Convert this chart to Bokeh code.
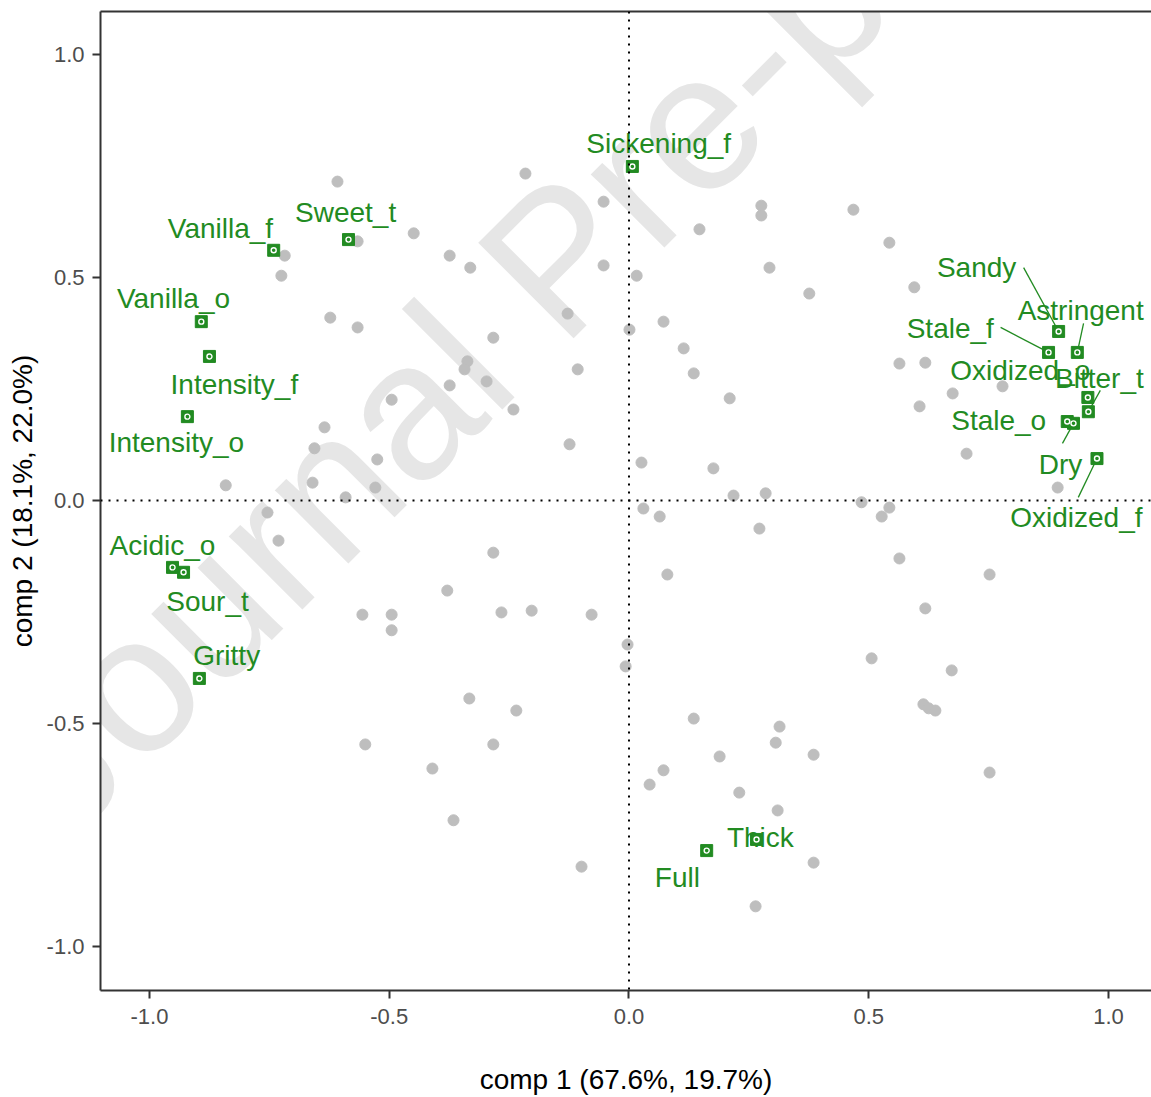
from bokeh.plotting import figure
from bokeh.models import (ColumnDataSource, Range1d, FixedTicker, PrintfTickFormatter,
                          LinearAxis, Span, Label)
from bokeh.embed import file_html
from bokeh.resources import INLINE
from bokeh.core.properties import value

# ---- loadings of the sample/design variables (grey) ----
grey_x = [-0.608, -0.718, -0.725, -0.566, -0.623, -0.566, -0.449, -0.374, -0.331, -0.216,
          -0.053, -0.053, 0.016, -0.128, -0.283, 0.001, 0.072, 0.114, 0.147, 0.276,
          0.276, 0.293, 0.135, 0.210, -0.337, -0.343, -0.374, -0.297, -0.107, -0.241,
          -0.124, 0.026, 0.176, 0.218, 0.285, 0.272, 0.030, 0.064, 0.080, -0.495,
          -0.635, -0.656, -0.525, -0.841, -0.660, -0.529, -0.591, -0.754, -0.731, -0.556,
          -0.495, -0.495, -0.283, -0.379, -0.266, -0.203, -0.078, -0.003, -0.007, -0.333,
          -0.235, -0.283, -0.550, -0.410, -0.366, -0.099, 0.135, 0.314, 0.306, 0.189,
          0.385, 0.072, 0.043, 0.230, 0.310, 0.385, 0.264, 0.485, 0.543, 0.527,
          0.564, 0.752, 0.618, 0.506, 0.673, 0.614, 0.625, 0.639, 0.752, 0.468,
          0.543, 0.595, 0.376, 0.564, 0.618, 0.779, 0.675, 0.606, 0.704, 0.894]
grey_y = [0.715, 0.549, 0.504, 0.581, 0.410, 0.388, 0.599, 0.549, 0.522, 0.733,
          0.670, 0.527, 0.504, 0.419, 0.365, 0.383, 0.401, 0.341, 0.608, 0.661,
          0.639, 0.522, 0.285, 0.229, 0.312, 0.294, 0.258, 0.267, 0.294, 0.204,
          0.126, 0.085, 0.072, 0.011, 0.016, -0.063, -0.018, -0.036, -0.166, 0.226,
          0.164, 0.117, 0.092, 0.034, 0.040, 0.029, 0.007, -0.027, -0.090, -0.256,
          -0.256, -0.291, -0.117, -0.202, -0.251, -0.247, -0.256, -0.323, -0.372, -0.444,
          -0.471, -0.547, -0.547, -0.601, -0.717, -0.821, -0.489, -0.507, -0.543, -0.574,
          -0.570, -0.605, -0.637, -0.655, -0.695, -0.812, -0.910, -0.004, -0.016, -0.036,
          -0.130, -0.166, -0.242, -0.354, -0.381, -0.457, -0.466, -0.471, -0.610, 0.652,
          0.578, 0.478, 0.464, 0.307, 0.309, 0.256, 0.240, 0.211, 0.105, 0.029]

# ---- sensory attribute loadings (green) ----
attributes = ["Vanilla_f", "Sweet_t", "Vanilla_o", "Sickening_f", "Intensity_f",
              "Intensity_o", "Acidic_o", "Sour_t", "Gritty", "Sandy", "Astringent",
              "Stale_f", "Oxidized_o", "Bitter_t", "Stale_o", "Dry", "Oxidized_f",
              "Thick", "Full"]
attr_x = [-0.741, -0.585, -0.892, 0.007, -0.875, -0.921, -0.952, -0.929, -0.896, 0.896,
          0.935, 0.875, 0.957, 0.958, 0.914, 0.927, 0.976, 0.266, 0.162]
attr_y = [0.561, 0.585, 0.401, 0.749, 0.323, 0.188, -0.150, -0.161, -0.399, 0.379,
          0.332, 0.332, 0.231, 0.199, 0.177, 0.173, 0.094, -0.760, -0.785]

# repelled label placement (data units)
label_x = [-0.852, -0.591, -0.950, 0.062, -0.823, -0.944, -0.973, -0.879, -0.839, 0.725,
           0.942, 0.670, 0.816, 0.981, 0.771, 0.900, 0.933, 0.274, 0.101]
label_y = [0.610, 0.646, 0.453, 0.800, 0.260, 0.130, -0.101, -0.226, -0.348, 0.522,
           0.426, 0.385, 0.291, 0.274, 0.179, 0.081, -0.038, -0.756, -0.845]

# leader segments for labels pushed away from their point
leader_names = ["Sandy", "Astringent", "Stale_f", "Bitter_t", "Dry", "Oxidized_f"]
leader_x0 = [0.823, 0.948, 0.775, 0.983, 0.904, 0.937]
leader_y0 = [0.522, 0.397, 0.388, 0.247, 0.128, 0.007]

tick_values = [-1.0, -0.5, 0.0, 0.5, 1.0]
x_title = "comp 1 (67.6%, 19.7%)"
y_title = "comp 2 (18.1%, 22.0%)"

GREEN = "#228B22"
FONT = "Liberation Sans"

p = figure(width=1151, height=1097, output_backend="svg", toolbar_location=None,
           x_range=Range1d(-1.1022, 1.0897), y_range=Range1d(-1.0987, 1.0964),
           x_axis_location=None, y_axis_location=None,
           min_border_left=100, min_border_right=0, min_border_top=11, min_border_bottom=107)
p.grid.visible = False
p.outline_line_color = None
p.background_fill_color = "white"
p.border_fill_color = "white"

def style_axis(ax, standoff, title_standoff):
    ax.ticker = FixedTicker(ticks=tick_values)
    ax.formatter = PrintfTickFormatter(format="%.1f")
    ax.axis_line_color = "#333333"
    ax.axis_line_width = 2
    ax.major_tick_line_color = "#333333"
    ax.major_tick_line_width = 2
    ax.major_tick_out = 8
    ax.major_tick_in = 0
    ax.minor_tick_line_color = None
    ax.major_label_text_font = FONT
    ax.major_label_text_font_size = "22px"
    ax.major_label_text_color = "#4D4D4D"
    ax.major_label_standoff = standoff
    ax.axis_label_text_font = FONT
    ax.axis_label_text_font_size = "28px"
    ax.axis_label_text_font_style = "normal"
    ax.axis_label_text_color = "black"
    ax.axis_label_standoff = title_standoff

xaxis = LinearAxis(axis_label=x_title)
style_axis(xaxis, 10, 37)
p.add_layout(xaxis, "below")

yaxis = LinearAxis(axis_label=y_title)
style_axis(yaxis, 8, 6)
p.add_layout(yaxis, "left")

# plain border line along the top of the panel
top = LinearAxis(ticker=FixedTicker(ticks=[]), axis_line_color="#333333", axis_line_width=2,
                 major_tick_line_color=None, minor_tick_line_color=None,
                 major_label_text_font_size="0px")
p.add_layout(top, "above")

# watermark
p.add_layout(Label(x=-1.267, y=-0.660, text="Journal Pre-proof", angle=45, angle_units="deg",
                   text_font=FONT, text_font_size="196px", text_color="#E6E6E6",
                   text_align="left", text_baseline="alphabetic", level="underlay"))

grey = ColumnDataSource(dict(x=grey_x, y=grey_y))
p.scatter("x", "y", source=grey, size=11, fill_color="#BEBEBE", line_color="#BEBEBE")

# dotted reference lines through the origin
p.add_layout(Span(location=0, dimension="height", line_color="black", line_width=2, line_dash="2 6"))
p.add_layout(Span(location=0, dimension="width", line_color="black", line_width=2, line_dash="2 6"))

attr = ColumnDataSource(dict(x=attr_x, y=attr_y, lx=label_x, ly=label_y, name=attributes))
idx = {n: i for i, n in enumerate(attributes)}
seg = ColumnDataSource(dict(x0=leader_x0, y0=leader_y0,
                            x1=[attr_x[idx[n]] for n in leader_names],
                            y1=[attr_y[idx[n]] for n in leader_names]))
p.segment("x0", "y0", "x1", "y1", source=seg, line_color=GREEN, line_width=1.3)

p.text("lx", "ly", text="name", source=attr, text_font=value(FONT), text_font_size="28px",
       text_color=GREEN, text_align="center", text_baseline="middle")

p.scatter("x", "y", source=attr, marker="square", size=12, fill_color=GREEN, line_color=GREEN)
p.scatter("x", "y", source=attr, marker="circle", size=5, fill_color=None, line_color="white",
          line_width=1.4)

open("out.html", "w").write(file_html(p, INLINE))
